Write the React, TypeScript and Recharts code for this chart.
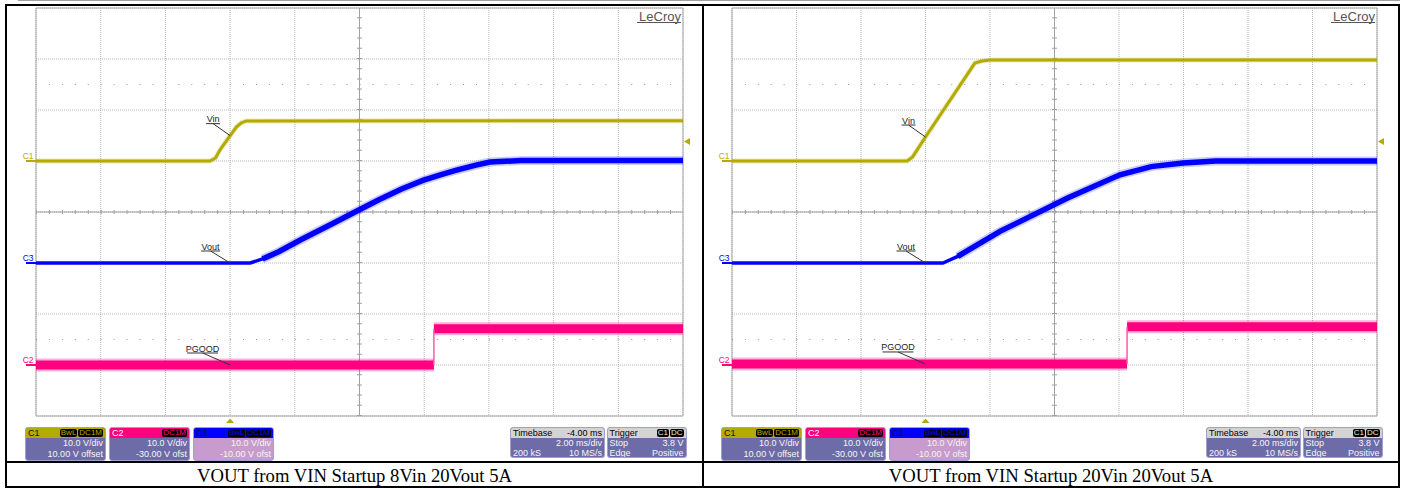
import React from "react"
import {
  LineChart,
  Line,
  XAxis,
  YAxis,
  CartesianGrid,
  ReferenceLine,
  ReferenceDot,
  ReferenceArea,
} from "recharts"

type Pt = { t: number; v: number }

// scope settings: 2 ms/div with trigger at t = 0, 10 V/div on every channel
const TIME_TICKS = [-6, -4, -2, 0, 2, 4, 6, 8, 10, 12, 14]
const DIV_TICKS = [-4, -3, -2, -1, 0, 1, 2, 3, 4]
const VOLTS_PER_DIV = 10
const TRIGGER_LEVEL = 3.8
// ground position of each channel, in divisions from screen centre
const C1_GROUND = 1
const C2_GROUND = -3
const C3_GROUND = -1

// 8 Vin startup (volts vs ms)
const VIN_8V: Pt[] = [
  { t: -6, v: 0 },
  { t: -0.62, v: 0 },
  { t: -0.45, v: 0.6 },
  { t: -0.31, v: 2.2 },
  { t: -0.02, v: 4.8 },
  { t: 0.2, v: 6.7 },
  { t: 0.35, v: 7.5 },
  { t: 0.5, v: 7.85 },
  { t: 14, v: 7.9 },
]
const VOUT_8V: Pt[] = [
  { t: -6, v: 0 },
  { t: 0.62, v: 0 },
  { t: 1.0, v: 0.8 },
  { t: 1.5, v: 2.2 },
  { t: 2.17, v: 4.5 },
  { t: 3.19, v: 7.8 },
  { t: 3.95, v: 10.3 },
  { t: 4.6, v: 12.4 },
  { t: 5.3, v: 14.5 },
  { t: 5.96, v: 16.2 },
  { t: 6.5, v: 17.3 },
  { t: 7.0, v: 18.2 },
  { t: 7.6, v: 19.2 },
  { t: 8.03, v: 19.8 },
  { t: 9.0, v: 20.1 },
  { t: 14, v: 20.1 },
]
const PGOOD_8V: Pt[] = [
  { t: -6, v: 0 },
  { t: 6.3, v: 0 },
  { t: 6.3, v: 7.1 },
  { t: 14, v: 7.1 },
]

// 20 Vin startup
const VIN_20V: Pt[] = [
  { t: -6, v: 0 },
  { t: -0.57, v: 0 },
  { t: -0.4, v: 0.8 },
  { t: 0, v: 4.7 },
  { t: 1.53, v: 19.2 },
  { t: 1.75, v: 19.6 },
  { t: 2.0, v: 19.8 },
  { t: 14, v: 19.8 },
]
const VOUT_20V: Pt[] = [
  { t: -6, v: 0 },
  { t: 0.54, v: 0 },
  { t: 1.0, v: 1.3 },
  { t: 2.31, v: 6.2 },
  { t: 4.39, v: 12.7 },
  { t: 6.03, v: 17.3 },
  { t: 7.0, v: 18.9 },
  { t: 7.98, v: 19.6 },
  { t: 9.0, v: 20.0 },
  { t: 14, v: 20.0 },
]
const PGOOD_20V: Pt[] = [
  { t: -6, v: 0.2 },
  { t: 6.25, v: 0.2 },
  { t: 6.25, v: 7.5 },
  { t: 14, v: 7.5 },
]

const C1_COLOR = "#b3ab00"
const C2_COLOR = "#ff0080"
const C3_COLOR = "#0000ff"
const GRID = "#b5b5b5"
const AXIS = "#a0a0a0"
const SANS = "'Liberation Sans', Arial, Helvetica, sans-serif"
const SERIF = "'Times New Roman', 'Liberation Serif', serif"

const CHART_W = 700
const CHART_H = 470
const PLOT_LEFT = 36
const PLOT_TOP = 8
const PLOT_H = 408
const VOUT_NOISY_FROM = 1.0

function channelDomain(ground: number): [number, number] {
  return [(-4 - ground) * VOLTS_PER_DIV, (4 - ground) * VOLTS_PER_DIV]
}

function valueAt(pts: Pt[], t: number): number {
  for (let i = 1; i < pts.length; i++) {
    const a = pts[i - 1]
    const b = pts[i]
    if (t >= a.t && t <= b.t && b.t !== a.t) {
      return a.v + ((t - a.t) / (b.t - a.t)) * (b.v - a.v)
    }
  }
  return pts[pts.length - 1].v
}

// split a stepped trace into flat runs (thick noise band) and vertical edges (thin)
function splitAtSteps(pts: Pt[]) {
  const flats: Pt[][] = [[pts[0]]]
  const steps: Pt[][] = []
  for (let i = 1; i < pts.length; i++) {
    const prev = pts[i - 1]
    const p = pts[i]
    if (p.t === prev.t) {
      steps.push([prev, p])
      flats.push([p])
    } else {
      flats[flats.length - 1].push(p)
    }
  }
  return { flats, steps }
}

const groundMark = (label: string, color: string) => (p: any) => {
  const cx = Number(p.cx)
  const cy = Number(p.cy)
  return (
    <g>
      <text x={cx - 2.5} y={cy - 2} textAnchor="end" fontSize={8.5} fill={color} fontFamily={SANS}>
        {label}
      </text>
      <line x1={cx - 10} x2={cx} y1={cy} y2={cy} stroke={color} strokeWidth={2} />
    </g>
  )
}

const traceLabel = (text: string, width: number, gap: number) => (p: any) => {
  const cx = Number(p.cx)
  const cy = Number(p.cy)
  const x2 = cx - gap
  const x1 = x2 - width
  const uy = cy - 12
  const mid = (x1 + x2) / 2
  return (
    <g>
      <text x={mid} y={uy - 1.5} textAnchor="middle" fontSize={9} fill="#222" fontFamily={SANS}>
        {text}
      </text>
      <line x1={x1} x2={x2} y1={uy} y2={uy} stroke="#333" strokeWidth={1} />
      <line x1={mid} y1={uy} x2={cx} y2={cy} stroke="#333" strokeWidth={1} />
    </g>
  )
}

const levelArrow = (p: any) => {
  const cx = Number(p.cx)
  const cy = Number(p.cy)
  return <polygon points={`${cx + 1},${cy} ${cx + 7},${cy - 3.5} ${cx + 7},${cy + 3.5}`} fill={C1_COLOR} />
}

const timeArrow = (p: any) => {
  const cx = Number(p.cx)
  const cy = Number(p.cy)
  return <polygon points={`${cx},${cy + 2.5} ${cx - 4},${cy + 7} ${cx + 4},${cy + 7}`} fill={C1_COLOR} />
}

const logo = (p: any) => {
  const cx = Number(p.cx)
  const cy = Number(p.cy)
  return (
    <g>
      <text x={cx - 2} y={cy + 12.5} textAnchor="end" fontSize={13} fill="#555" fontFamily={SANS}>
        LeCroy
      </text>
      <line x1={cx - 46} x2={cx - 2} y1={cy + 14.5} y2={cy + 14.5} stroke="#555" strokeWidth={1} />
    </g>
  )
}

type ChannelBoxProps = {
  left: number
  name: string
  color: string
  nameColor: string
  badges: string[]
  scale: string
  offset: string
  selected?: boolean
}

function ChannelBox(props: ChannelBoxProps) {
  return (
    <div
      style={{
        position: "absolute",
        left: props.left,
        top: 427,
        width: 81,
        height: 34,
        boxSizing: "border-box",
        borderRadius: 3,
        border: "1px solid #a19fd2",
        background: props.selected ? "#c79bcb" : "#6e6ba9",
        overflow: "hidden",
        fontFamily: SANS,
        fontSize: 9,
        color: "#f6f6f6",
      }}
    >
      <div
        style={{
          height: 10,
          background: props.color,
          display: "flex",
          alignItems: "center",
          padding: "0 2px",
          lineHeight: "10px",
        }}
      >
        <span style={{ color: props.nameColor }}>{props.name}</span>
        <span style={{ marginLeft: "auto", display: "flex", gap: 1 }}>
          {props.badges.map((b) => (
            <span
              key={b}
              style={{
                background: "#000",
                color: props.color,
                borderRadius: 2,
                padding: "0 1px",
                fontSize: 8,
                lineHeight: "8px",
                height: 8,
              }}
            >
              {b}
            </span>
          ))}
        </span>
      </div>
      <div style={{ textAlign: "right", paddingRight: 2, lineHeight: "11px" }}>{props.scale}</div>
      <div style={{ textAlign: "right", paddingRight: 2, lineHeight: "11px" }}>{props.offset}</div>
    </div>
  )
}

const infoBox: React.CSSProperties = {
  position: "absolute",
  top: 427,
  height: 31,
  boxSizing: "border-box",
  borderRadius: 3,
  border: "1px solid #a19fd2",
  background: "#6e6ba9",
  overflow: "hidden",
  fontFamily: SANS,
  fontSize: 9,
  color: "#f6f6f6",
}
const infoHeader: React.CSSProperties = {
  height: 10,
  background: "#d3d3d7",
  color: "#000",
  display: "flex",
  alignItems: "center",
  justifyContent: "space-between",
  padding: "0 2px",
  lineHeight: "10px",
}
const infoRow: React.CSSProperties = {
  display: "flex",
  justifyContent: "space-between",
  padding: "0 2px",
  lineHeight: "10px",
}

function TimebaseBox() {
  return (
    <div style={{ ...infoBox, left: 510, width: 95 }}>
      <div style={infoHeader}>
        <span>Timebase</span>
        <span>-4.00 ms</span>
      </div>
      <div style={infoRow}>
        <span />
        <span>2.00 ms/div</span>
      </div>
      <div style={infoRow}>
        <span>200 kS</span>
        <span>10 MS/s</span>
      </div>
    </div>
  )
}

function TriggerBox() {
  const badge: React.CSSProperties = {
    background: "#000",
    color: "#eee",
    borderRadius: 2,
    padding: "0 1px",
    fontSize: 8,
    lineHeight: "8px",
    height: 8,
  }
  return (
    <div style={{ ...infoBox, left: 606.5, width: 80 }}>
      <div style={infoHeader}>
        <span>Trigger</span>
        <span style={{ display: "flex", gap: 1 }}>
          <span style={badge}>C1</span>
          <span style={badge}>DC</span>
        </span>
      </div>
      <div style={infoRow}>
        <span>Stop</span>
        <span>3.8 V</span>
      </div>
      <div style={infoRow}>
        <span>Edge</span>
        <span>Positive</span>
      </div>
    </div>
  )
}

type PanelProps = {
  left: number
  plotWidth: number
  vin: Pt[]
  vout: Pt[]
  pgood: Pt[]
}

function ScopePanel({ left, plotWidth, vin, vout, pgood }: PanelProps) {
  const minorX = plotWidth / 50
  const minorY = PLOT_H / 40
  const { flats, steps } = splitAtSteps(pgood)
  const voutNoisy = vout.filter((p) => p.t >= VOUT_NOISY_FROM)
  const common = { dot: false, activeDot: false, isAnimationActive: false, type: "linear" as const, dataKey: "v" }

  return (
    <div style={{ position: "absolute", left, top: 0, width: CHART_W, height: 488 }}>
      <LineChart
        width={CHART_W}
        height={CHART_H}
        margin={{
          top: PLOT_TOP,
          left: PLOT_LEFT,
          right: CHART_W - PLOT_LEFT - plotWidth,
          bottom: CHART_H - PLOT_TOP - PLOT_H,
        }}
      >
        <XAxis type="number" dataKey="t" domain={[-6, 14]} ticks={TIME_TICKS} interval={0} hide allowDataOverflow />
        <YAxis type="number" domain={[-4, 4]} ticks={DIV_TICKS} interval={0} hide allowDataOverflow />
        <YAxis yAxisId="c1" type="number" domain={channelDomain(C1_GROUND)} hide allowDataOverflow />
        <YAxis yAxisId="c2" type="number" domain={channelDomain(C2_GROUND)} hide allowDataOverflow />
        <YAxis yAxisId="c3" type="number" domain={channelDomain(C3_GROUND)} hide allowDataOverflow />

        <CartesianGrid stroke={GRID} strokeDasharray="1 1" />
        <ReferenceLine y={2.5} stroke="#999" strokeDasharray={`1 ${minorX - 1}`} />
        <ReferenceLine y={-2.5} stroke="#999" strokeDasharray={`1 ${minorX - 1}`} />
        <ReferenceLine y={0} stroke={AXIS} />
        <ReferenceLine y={0} stroke={AXIS} strokeWidth={4} strokeDasharray={`1 ${minorX - 1}`} />
        <ReferenceLine x={4} stroke={AXIS} />
        <ReferenceLine x={4} stroke={AXIS} strokeWidth={5} strokeDasharray={`1 ${minorY - 1}`} />
        <ReferenceArea x1={-6} x2={14} y1={-4} y2={4} fill="none" stroke="#a8a8a8" ifOverflow="visible" />

        {/* C2: PGOOD */}
        {flats.map((seg, i) => (
          <Line key={`pgh${i}`} {...common} yAxisId="c2" data={seg} stroke={C2_COLOR} strokeWidth={13} strokeOpacity={0.3} />
        ))}
        {flats.map((seg, i) => (
          <Line key={`pg${i}`} {...common} yAxisId="c2" data={seg} stroke={C2_COLOR} strokeWidth={9} />
        ))}
        {steps.map((seg, i) => (
          <Line key={`pge${i}`} {...common} yAxisId="c2" data={seg} stroke="#ff5aa8" strokeWidth={1.5} />
        ))}

        {/* C3: Vout */}
        <Line {...common} yAxisId="c3" data={voutNoisy} stroke={C3_COLOR} strokeWidth={9} strokeOpacity={0.2} />
        <Line {...common} yAxisId="c3" data={vout} stroke={C3_COLOR} strokeWidth={3.5} />
        <Line {...common} yAxisId="c3" data={voutNoisy} stroke={C3_COLOR} strokeWidth={5.5} />

        {/* C1: Vin */}
        <Line {...common} yAxisId="c1" data={vin} stroke={C1_COLOR} strokeWidth={5} strokeOpacity={0.25} />
        <Line {...common} yAxisId="c1" data={vin} stroke={C1_COLOR} strokeWidth={3} />

        <ReferenceDot x={-6} y={0} yAxisId="c1" ifOverflow="visible" shape={groundMark("C1", C1_COLOR)} />
        <ReferenceDot x={-6} y={0} yAxisId="c3" ifOverflow="visible" shape={groundMark("C3", C3_COLOR)} />
        <ReferenceDot x={-6} y={0} yAxisId="c2" ifOverflow="visible" shape={groundMark("C2", C2_COLOR)} />

        <ReferenceDot x={0} y={valueAt(vin, 0)} yAxisId="c1" ifOverflow="visible" shape={traceLabel("Vin", 14, 10)} />
        <ReferenceDot x={0} y={valueAt(vout, 0)} yAxisId="c3" ifOverflow="visible" shape={traceLabel("Vout", 19, 10)} />
        <ReferenceDot x={0} y={valueAt(pgood, 0)} yAxisId="c2" ifOverflow="visible" shape={traceLabel("PGOOD", 31, 12)} />

        <ReferenceDot x={14} y={TRIGGER_LEVEL} yAxisId="c1" ifOverflow="visible" shape={levelArrow} />
        <ReferenceDot x={0} y={-4} ifOverflow="visible" shape={timeArrow} />
        <ReferenceDot x={14} y={4} ifOverflow="visible" shape={logo} />
      </LineChart>

      <ChannelBox left={25} name="C1" color={C1_COLOR} nameColor="#111" badges={["BwL", "DC1M"]} scale="10.0 V/div" offset="10.00 V offset" />
      <ChannelBox left={109} name="C2" color={C2_COLOR} nameColor="#fff" badges={["DC1M"]} scale="10.0 V/div" offset="-30.00 V ofst" />
      <ChannelBox left={193} name="C3" color={C3_COLOR} nameColor="#001060" badges={["BwL", "DC1M"]} scale="10.0 V/div" offset="-10.00 V ofst" selected />
      <TimebaseBox />
      <TriggerBox />
    </div>
  )
}

const line = (s: React.CSSProperties): React.CSSProperties => ({ position: "absolute", background: "#000", ...s })

export default function App() {
  return (
    <div style={{ position: "absolute", left: 0, top: 0, width: 1405, height: 488, background: "#fff", overflow: "hidden" }}>
      <ScopePanel left={0} plotWidth={647} vin={VIN_8V} vout={VOUT_8V} pgood={PGOOD_8V} />
      <ScopePanel left={696} plotWidth={645} vin={VIN_20V} vout={VOUT_20V} pgood={PGOOD_20V} />

      {/* table rules */}
      <div style={{ position: "absolute", left: 18, top: 0, width: 1382, height: 1, background: "#a0a0a0" }} />
      <div style={line({ left: 5, top: 4, width: 1395, height: 2 })} />
      <div style={line({ left: 5, top: 4, width: 2, height: 484 })} />
      <div style={line({ left: 702, top: 4, width: 2, height: 484 })} />
      <div style={line({ left: 1398, top: 4, width: 2, height: 484 })} />
      <div style={line({ left: 5, top: 461, width: 1395, height: 2 })} />
      <div style={line({ left: 5, top: 486, width: 1395, height: 2 })} />

      <div style={{ position: "absolute", left: 7, top: 464, width: 695, height: 22, lineHeight: "23px", textAlign: "center", fontFamily: SERIF, fontSize: 18.67, color: "#000" }}>
        VOUT from VIN Startup 8Vin 20Vout 5A
      </div>
      <div style={{ position: "absolute", left: 704, top: 464, width: 694, height: 22, lineHeight: "23px", textAlign: "center", fontFamily: SERIF, fontSize: 18.67, color: "#000" }}>
        VOUT from VIN Startup 20Vin 20Vout 5A
      </div>
    </div>
  )
}
